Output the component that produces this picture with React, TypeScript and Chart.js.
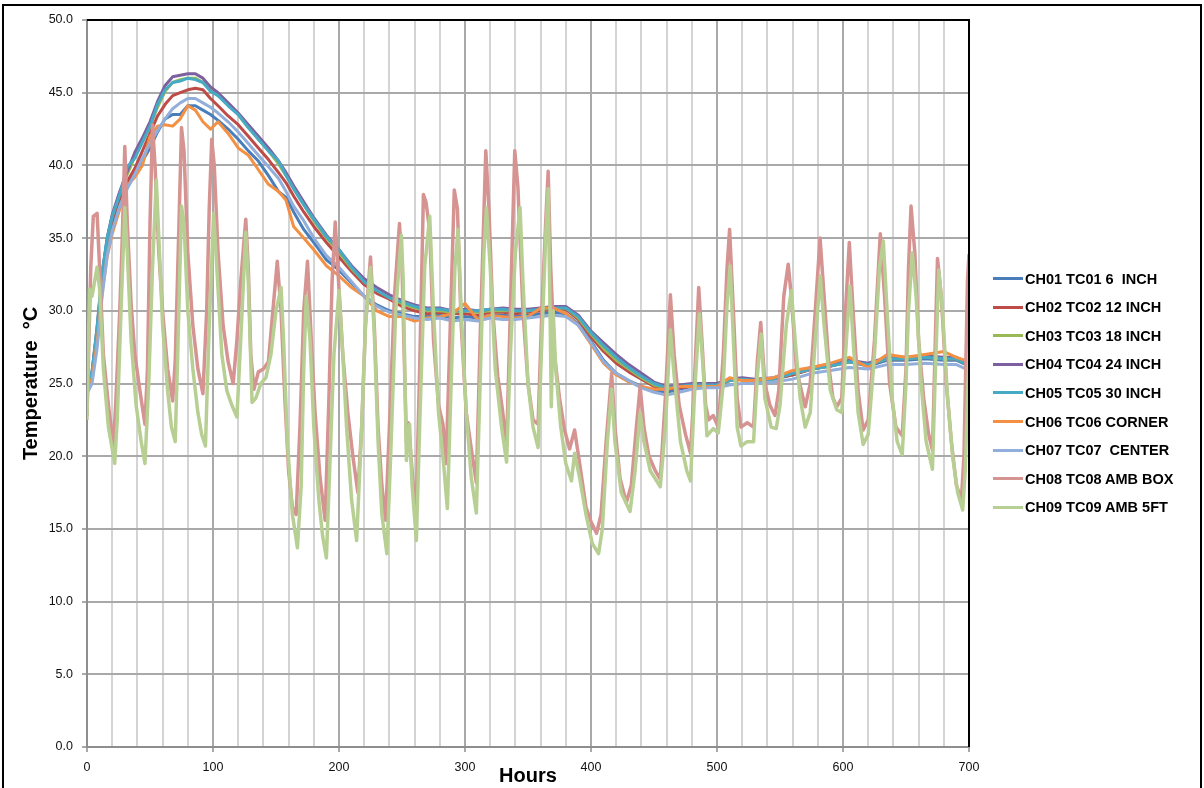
import React, { useEffect, useRef } from "react";
import { Chart, registerables } from "chart.js";

Chart.register(...registerables);

// ---------- data ----------
const seriesLabels = [
  "CH01 TC01 6  INCH",
  "CH02 TC02 12 INCH",
  "CH03 TC03 18 INCH",
  "CH04 TC04 24 INCH",
  "CH05 TC05 30 INCH",
  "CH06 TC06 CORNER",
  "CH07 TC07  CENTER",
  "CH08 TC08 AMB BOX",
  "CH09 TC09 AMB 5FT",
];

const seriesColors = [
  "#4A7EBB",
  "#BE4B48",
  "#98B954",
  "#7D60A0",
  "#46AAC5",
  "#F39043",
  "#92AEDA",
  "#D59391",
  "#B7CF92",
];

const xTickValues = [0, 100, 200, 300, 400, 500, 600, 700];
const yTickValues = [0, 5, 10, 15, 20, 25, 30, 35, 40, 45, 50];

// shared time base (hours) for the seven in-ground thermocouples
const bundleHours = [
  0, 4, 8, 12, 16, 20,
  26, 32, 38, 44, 50, 56, 62, 68, 74, 80,
  86, 92, 98, 104,
  112, 120, 128, 136, 144, 152,
  158, 164, 172, 180,
  190, 200, 210, 220, 230, 240, 250, 260, 270, 280, 290, 300, 310, 320, 330, 340, 350, 360, 370, 380,
  390, 400, 410, 420, 430, 440, 450, 460, 470, 480, 490, 500, 510, 520, 530,
  545, 560, 575, 590, 605, 620, 635, 650, 665, 680,
  690, 700,
];

const ch01Temps = [
  24.4, 25.3, 28.0, 31.8, 34.3, 35.9,
  37.5, 38.5, 39.4, 40.3, 41.2, 42.3, 43.2, 43.5, 43.5, 44.1,
  44.1, 43.8, 43.5, 43.1,
  42.5, 41.8, 41.0, 40.3, 39.3, 38.2,
  37.8, 36.8, 35.6, 34.7,
  33.5, 32.8, 31.9, 31.0, 30.4, 30.0, 29.8, 29.6, 29.6, 29.7, 29.5, 29.6, 29.5, 29.7, 29.7, 29.6, 29.7, 29.8, 29.9, 29.8,
  29.1, 27.9, 26.6, 25.7, 25.2, 24.8, 24.5, 24.4, 24.6, 24.8, 24.9, 24.9, 25.3, 25.3, 25.2,
  25.3, 25.6, 26.0, 26.2, 26.5, 26.2, 26.6, 26.6, 26.7, 26.6,
  26.6, 26.2,
];

const ch02Temps = [
  24.5, 25.6, 28.5, 32.2, 34.7, 36.3,
  37.8, 38.9, 39.8, 41.0, 42.2, 43.4, 44.2, 44.8, 45.0, 45.2,
  45.3, 45.2, 44.6, 44.1,
  43.4, 42.8, 42.0, 41.2, 40.4, 39.5,
  38.8, 37.9, 36.8, 35.8,
  34.7, 33.7, 32.7, 31.8, 31.2, 30.8, 30.3, 30.0, 29.8, 29.9, 29.8, 29.8, 29.7, 29.9, 29.9, 29.8, 29.9, 30.0, 30.1, 30.1,
  29.4, 28.2, 27.2, 26.4, 25.8, 25.3, 24.8, 24.6, 24.7, 24.8, 24.9, 24.9, 25.2, 25.3, 25.2,
  25.3, 25.6, 26.0, 26.2, 26.5, 26.3, 26.7, 26.7, 26.8, 26.7,
  26.7, 26.4,
];

const ch03Temps = [
  24.6, 25.7, 28.7, 32.4, 34.9, 36.5,
  38.1, 39.4, 40.6, 41.6, 42.7, 44.0, 45.1, 45.7, 45.9, 46.0,
  46.0, 45.7, 45.2, 44.8,
  44.2, 43.5, 42.6, 41.8, 41.0, 40.1,
  39.3, 38.4, 37.3, 36.2,
  35.0, 34.0, 32.9, 32.0, 31.4, 30.9, 30.5, 30.2, 30.0, 30.0, 29.9, 30.0, 29.9, 30.0, 30.0, 30.0, 30.0, 30.1, 30.2, 30.2,
  29.5, 28.4, 27.4, 26.6, 26.0, 25.4, 24.9, 24.7, 24.8, 24.9, 24.9, 24.9, 25.2, 25.3, 25.2,
  25.3, 25.7, 26.0, 26.2, 26.5, 26.3, 26.7, 26.7, 26.8, 26.7,
  26.7, 26.3,
];

const ch04Temps = [
  24.6, 25.8, 28.8, 32.5, 35.0, 36.6,
  38.2, 39.6, 40.9, 41.9, 43.0, 44.4, 45.5, 46.1, 46.2, 46.3,
  46.3, 46.0, 45.4, 45.0,
  44.3, 43.6, 42.8, 42.0, 41.2, 40.3,
  39.5, 38.6, 37.5, 36.4,
  35.2, 34.2, 33.1, 32.2, 31.6, 31.1, 30.7, 30.4, 30.2, 30.2, 30.0, 30.1, 30.0, 30.1, 30.2, 30.1, 30.1, 30.2, 30.3, 30.3,
  29.7, 28.6, 27.8, 27.0, 26.3, 25.7, 25.1, 24.8, 24.9, 25.0, 25.0, 25.0, 25.3, 25.4, 25.3,
  25.4, 25.8, 26.1, 26.3, 26.6, 26.4, 26.8, 26.8, 26.9, 26.8,
  26.8, 26.3,
];

const ch05Temps = [
  24.6, 25.8, 28.9, 32.6, 35.0, 36.5,
  38.0, 39.9, 40.5, 41.6, 42.7, 44.2, 45.2, 45.7, 45.8, 46.0,
  45.9, 45.7, 45.1, 44.8,
  44.1, 43.5, 42.6, 41.8, 41.0, 40.3,
  39.3, 38.4, 37.3, 36.3,
  35.1, 34.2, 33.0, 32.0, 31.4, 30.9, 30.6, 30.3, 30.1, 30.1, 30.0, 30.0, 30.0, 30.1, 30.1, 30.0, 30.0, 30.1, 30.2, 30.2,
  29.6, 28.5, 27.6, 26.8, 26.1, 25.5, 25.0, 24.7, 24.8, 24.9, 24.9, 24.9, 25.2, 25.3, 25.2,
  25.3, 25.7, 26.0, 26.2, 26.5, 26.3, 26.7, 26.7, 26.8, 26.7,
  26.7, 26.2,
];

const ch06Temps = [
  24.5, 25.3, 27.8, 31.2, 33.7, 35.3,
  37.0, 38.6, 39.2, 40.0, 42.0, 42.7, 42.8, 42.7, 43.2, 44.1,
  43.8, 43.0, 42.5, 43.0,
  42.2, 41.2, 40.7, 39.7, 38.7, 38.2,
  37.6, 35.8, 35.0, 34.2,
  33.1, 32.4, 31.6, 31.0, 30.0, 29.6, 29.6, 29.3, 29.5, 29.6, 29.8, 30.5, 29.4, 29.7, 29.6, 29.5, 29.6, 30.2, 30.2, 29.8,
  29.0, 27.7, 26.4, 25.6, 25.1, 24.8, 24.6, 24.6, 24.8, 24.8, 24.8, 24.8, 25.4, 25.2, 25.2,
  25.4, 25.9, 26.1, 26.4, 26.8, 26.1, 27.0, 26.8, 27.0, 27.2,
  26.8, 26.5,
];

const ch07Temps = [
  24.3, 25.0, 27.4, 31.0, 33.8, 35.5,
  37.2, 38.4, 39.4, 40.5, 41.5, 42.4, 43.2, 43.9, 44.3, 44.6,
  44.6, 44.3, 44.0, 43.6,
  43.0, 42.3, 41.5, 40.7, 39.9, 39.1,
  38.2, 37.2, 36.2, 35.0,
  33.8, 33.0, 32.0, 31.0, 30.3, 29.9, 29.7, 29.5, 29.4, 29.5, 29.3, 29.4, 29.3, 29.5, 29.4, 29.4, 29.5, 29.6, 29.7, 29.6,
  29.0, 27.8, 26.5, 25.7, 25.2, 24.7, 24.4, 24.2, 24.4, 24.6, 24.7, 24.7, 24.9, 25.0, 25.0,
  25.1, 25.3, 25.7, 25.9, 26.1, 26.0, 26.3, 26.3, 26.4, 26.3,
  26.3, 25.9,
];

// ambient readings: [hour, temperature]
const ambBoxReadings = [
  [0, 22.8], [3, 33.0], [5, 36.5], [8, 36.7], [10, 33.0], [13, 27.0], [17, 23.5], [21, 20.7],
  [23, 24.0], [26, 30.0], [28, 35.0], [30, 41.3], [32, 36.0], [35, 30.5], [38, 27.0], [42, 24.5],
  [46, 22.2], [48, 26.0], [50, 36.0], [52, 42.8], [54, 40.0], [57, 34.0], [60, 30.0], [64, 26.0],
  [68, 23.8], [70, 26.5], [73, 36.0], [75, 42.6], [77, 41.0], [80, 34.0], [84, 29.0], [88, 26.0],
  [92, 24.3], [95, 30.0], [97, 37.0], [99, 41.8], [101, 40.0], [104, 34.0], [108, 29.0], [112, 26.5],
  [116, 25.0], [119, 28.0], [122, 32.0], [126, 36.3], [128, 33.0], [130, 27.0], [132.5, 24.6], [136, 25.8],
  [140, 26.0], [144, 26.5], [147, 29.5], [151, 33.4], [154, 30.0], [157, 24.0], [160, 19.0], [163, 16.5],
  [166, 16.0], [169, 22.0], [172, 30.0], [175, 33.4], [178, 28.0], [181, 23.0], [185, 18.5], [189, 15.6],
  [192, 24.0], [194.5, 32.0], [197, 36.1], [200, 31.5], [203, 27.0], [207, 23.0], [211, 20.0], [215, 17.5],
  [218, 22.0], [221, 29.0], [225, 33.7], [228, 29.0], [231, 22.0], [234, 18.0], [237, 15.6], [240, 22.0],
  [244, 31.0], [248, 36.0], [250, 33.0], [253.5, 21.0], [255, 22.3], [258, 19.0], [261, 15.5], [264, 26.0],
  [267, 38.0], [269, 37.5], [272, 35.5], [275, 28.0], [279, 23.5], [282.5, 22.2], [285, 19.5], [288, 28.0],
  [291.5, 38.3], [294, 37.0], [297, 29.0], [301, 23.0], [305, 20.5], [309, 18.2], [312, 28.0], [316.5, 41.0],
  [319, 37.0], [322, 30.0], [326, 25.5], [330, 23.0], [333, 20.7], [336, 30.0], [339.5, 41.0], [342, 38.5],
  [346, 30.0], [350, 25.0], [354, 22.5], [358, 22.2], [361, 30.0], [364, 36.0], [366, 39.6], [368, 33.0],
  [371, 27.0], [375, 24.0], [379, 21.8], [383, 20.5], [387, 21.8], [391, 19.5], [396, 16.5], [400, 15.5],
  [404.4, 14.7], [408, 16.0], [412, 21.0], [416.4, 25.7], [419, 22.0], [423, 18.5], [428, 16.8], [432, 18.0],
  [436, 22.0], [439, 24.8], [442, 22.0], [446, 20.0], [451, 19.0], [455, 18.4], [459, 24.0], [463, 31.1],
  [466, 27.0], [470, 23.5], [475, 21.5], [479, 20.2], [482, 25.0], [485.5, 31.6], [488, 28.0], [491, 23.5],
  [493.5, 22.5], [497, 22.8], [501, 22.0], [505, 27.0], [508, 33.0], [510, 35.6], [513, 30.0], [516, 24.0],
  [519, 22.0], [524, 22.3], [529, 22.0], [532, 26.5], [534.7, 29.2], [538, 25.0], [542, 23.5], [546, 22.8],
  [549, 24.5], [553, 31.0], [556.5, 33.2], [559, 31.0], [563, 26.0], [567, 24.5], [570, 23.4], [574, 25.0],
  [578, 30.0], [581.8, 35.0], [585, 31.0], [589, 26.0], [592, 24.0], [595, 23.4], [599, 24.0], [602, 30.0],
  [605, 34.7], [608, 30.0], [612, 24.5], [616, 21.8], [620, 22.5], [625, 28.0], [629.6, 35.3], [633, 31.0],
  [637, 25.0], [642, 22.0], [647, 21.4], [650, 26.0], [652, 33.0], [654, 37.2], [657, 34.0], [660, 28.0],
  [664, 24.0], [668, 21.5], [671, 20.4], [673, 27.0], [675, 33.6], [678, 31.0], [682, 25.0], [686, 21.0],
  [690, 18.0], [694, 17.0], [696, 20.0], [698.8, 32.1], [700, 33.9],
];

const amb5ftReadings = [
  [0, 22.5], [2, 31.5], [4, 31.0], [6, 32.0], [8, 33.0], [10, 31.5], [13, 26.0], [17, 22.0],
  [22, 19.5], [24, 22.5], [27, 30.0], [30, 37.1], [32, 34.0], [35, 28.0], [39, 23.5], [43, 21.0],
  [46, 19.5], [49, 25.0], [52, 33.0], [55, 39.0], [57, 35.0], [60, 29.0], [64, 24.5], [67, 22.0],
  [70, 21.0], [72, 27.0], [75, 37.2], [77, 36.0], [80, 30.0], [84, 26.0], [88, 23.0], [91, 21.5],
  [94, 20.7], [97, 29.0], [100.5, 36.7], [103, 33.0], [107, 27.0], [111, 24.5], [115, 23.5], [119, 22.7],
  [122, 28.0], [126, 35.4], [128, 32.0], [131, 23.7], [134, 24.0], [138, 25.0], [142, 25.4], [146, 27.0],
  [150, 30.0], [154, 31.6], [156, 28.0], [159, 21.0], [163, 16.0], [167, 13.7], [170, 18.0], [172, 26.0],
  [174, 31.0], [177, 28.0], [180, 22.0], [184, 17.0], [187, 14.5], [190, 13.0], [193, 20.0], [196, 27.0],
  [200, 31.4], [203, 27.0], [206, 22.0], [210, 17.0], [214, 14.2], [218, 22.0], [221, 29.0], [225, 33.0],
  [228, 28.5], [231, 21.0], [234, 16.0], [238, 13.3], [241, 20.0], [245, 30.0], [249.5, 35.2], [251, 32.0],
  [253.5, 19.7], [256, 22.2], [258, 18.0], [261.4, 14.2], [264, 22.0], [268, 33.0], [272, 36.5], [275, 30.0],
  [279, 23.0], [283, 19.5], [286, 16.4], [289, 25.0], [292, 33.0], [294.5, 35.6], [297, 30.0], [301, 23.0],
  [305, 18.5], [309, 16.1], [312, 25.0], [315, 34.0], [317, 37.1], [320, 33.0], [324, 26.0], [329, 22.0],
  [333, 19.6], [336, 27.0], [340, 34.0], [343.7, 37.1], [346, 32.0], [350, 25.0], [354, 22.0], [358, 20.6],
  [361, 28.0], [364, 35.0], [366, 38.4], [367.5, 30.0], [368.5, 23.4], [370, 30.0], [372, 26.0], [376, 22.0],
  [380, 19.5], [384.5, 18.3], [387, 20.2], [391, 18.5], [396, 16.0], [401, 14.0], [406, 13.3], [409, 15.0],
  [413, 21.0], [416.4, 24.6], [419, 21.0], [424, 17.5], [431, 16.2], [435, 19.0], [439, 23.0], [442, 21.0],
  [447, 19.0], [455, 17.9], [459, 22.0], [463, 28.7], [466, 25.5], [471, 21.0], [476, 19.0], [479, 18.3],
  [482, 24.0], [486, 29.8], [489, 26.0], [492, 21.4], [497, 21.9], [501, 21.6], [505, 25.0], [508, 30.5],
  [510.5, 33.1], [513, 28.0], [516, 22.0], [519, 20.7], [524, 21.0], [529, 21.0], [532, 25.5], [535, 28.4],
  [538, 24.0], [543, 22.0], [547, 21.9], [550, 23.5], [555, 29.0], [559, 31.4], [562, 28.0], [566, 24.0],
  [570, 22.0], [574, 23.0], [578, 28.0], [582, 32.4], [585, 29.0], [590, 24.5], [595, 23.2], [599, 23.0],
  [602, 27.0], [605.5, 31.7], [608, 28.0], [612, 23.0], [616, 20.8], [620, 21.5], [625, 27.0], [629, 33.0],
  [632, 34.8], [635, 30.0], [639, 24.0], [643, 21.0], [647, 20.1], [650, 25.0], [652, 30.0], [655, 34.0],
  [658, 31.0], [662, 25.0], [666, 21.0], [671, 19.1], [673, 25.0], [676, 32.8], [679, 30.0], [683, 24.0],
  [687, 20.0], [691, 17.5], [695, 16.3], [697, 19.0], [700, 27.1],
];

// ---------- layout ----------
const FONT = "'Liberation Sans', Arial, sans-serif";
const AREA = { left: 87, right: 969, top: 20, bottom: 747 };
const W = 1204;
const H = 788;
const LEGEND_X = 993;
const LEGEND_Y0 = 278.5;
const LEGEND_STEP = 28.6;

export default function App() {
  const canvasRef = useRef<HTMLCanvasElement | null>(null);

  useEffect(() => {
    const canvas = canvasRef.current;
    if (!canvas) return;
    const bundle = [ch01Temps, ch02Temps, ch03Temps, ch04Temps, ch05Temps, ch06Temps, ch07Temps];
    const ambient = [ambBoxReadings, amb5ftReadings];

    const datasets = seriesLabels.map((label, i) => {
      const data =
        i < 7
          ? bundleHours.map((h, k) => ({ x: h, y: bundle[i][k] }))
          : ambient[i - 7].map(([h, t]) => ({ x: h, y: t }));
      return {
        label,
        data,
        borderColor: seriesColors[i],
        backgroundColor: seriesColors[i],
        borderWidth: i < 7 ? 3 : 3.5,
        pointRadius: 0,
        pointHoverRadius: 0,
        tension: 0,
        fill: false,
        order: seriesLabels.length - 1 - i,
        borderJoinStyle: "round" as const,
      };
    });

    const plotFrame = {
      id: "plotFrame",
      afterDraw(chart: any) {
        const { ctx, chartArea } = chart;
        ctx.save();
        ctx.strokeStyle = "#000";
        ctx.lineWidth = 2;
        ctx.beginPath();
        ctx.moveTo(chartArea.left, chartArea.top);
        ctx.lineTo(chartArea.right, chartArea.top);
        ctx.lineTo(chartArea.right, chartArea.bottom);
        ctx.stroke();
        ctx.restore();
      },
    };

    const chart = new Chart(canvas, {
      type: "line",
      data: { datasets },
      options: {
        animation: false,
        responsive: false,
        devicePixelRatio: 1,
        layout: {
          padding: { left: 0, right: W - AREA.right, top: AREA.top, bottom: 0 },
        },
        plugins: {
          legend: { display: false },
          tooltip: { enabled: false },
        },
        scales: {
          x: {
            type: "linear",
            min: 0,
            max: 700,
            afterFit: (s: any) => {
              s.height = H - AREA.bottom;
            },
            afterBuildTicks: (s: any) => {
              const ticks = [];
              for (let v = 0; v <= 700; v += 20) ticks.push({ value: v });
              s.ticks = ticks;
            },
            ticks: {
              autoSkip: false,
              maxRotation: 0,
              padding: 8,
              color: "#111",
              font: { family: FONT, size: 12.5 },
              callback: (v: any) => (xTickValues.includes(Number(v)) ? String(v) : ""),
            },
            grid: {
              lineWidth: 2,
              tickLength: 5,
              color: (c: any) =>
                c.tick && xTickValues.includes(c.tick.value) ? "#a9a9a9" : "#d4d4d4",
              tickColor: (c: any) =>
                c.tick && xTickValues.includes(c.tick.value) ? "#a9a9a9" : "rgba(0,0,0,0)",
            },
            border: { display: true, color: "#8e8e8e", width: 2 },
            title: {
              display: true,
              text: "Hours",
              color: "#000",
              font: { family: FONT, size: 20, weight: "bold" },
              padding: { top: 0, bottom: 0 },
            },
          },
          y: {
            type: "linear",
            min: 0,
            max: 50,
            afterFit: (s: any) => {
              s.width = AREA.left;
            },
            afterBuildTicks: (s: any) => {
              s.ticks = yTickValues.map((v) => ({ value: v }));
            },
            ticks: {
              padding: 9,
              color: "#111",
              font: { family: FONT, size: 12.5 },
              callback: (v: any) => Number(v).toFixed(1),
            },
            grid: {
              lineWidth: 2,
              tickLength: 5,
              color: "#a9a9a9",
              tickColor: "#a9a9a9",
            },
            border: { display: true, color: "#8e8e8e", width: 2 },
            title: {
              display: true,
              text: "Temperature  °C",
              color: "#000",
              font: { family: FONT, size: 20, weight: "bold" },
              padding: { top: 19, bottom: 0 },
            },
          },
        },
      },
      plugins: [plotFrame],
    });

    return () => chart.destroy();
  }, []);

  return (
    <div
      style={{
        position: "fixed",
        left: 0,
        top: 0,
        width: W,
        height: H,
        overflow: "hidden",
        background: "#fff",
      }}
    >
      <div
        style={{
          position: "absolute",
          left: 2,
          top: 4,
          width: 1200,
          height: 820,
          border: "2px solid #000",
          boxSizing: "border-box",
        }}
      />
      <canvas
        ref={canvasRef}
        width={W}
        height={H}
        style={{ position: "absolute", left: 0, top: 0 }}
      />
      {seriesLabels.map((label, i) => (
        <div
          key={label}
          style={{
            position: "absolute",
            left: LEGEND_X,
            top: LEGEND_Y0 + i * LEGEND_STEP - 10,
            height: 20,
            display: "flex",
            alignItems: "center",
          }}
        >
          <span
            style={{
              display: "inline-block",
              width: 30,
              height: 3,
              background: seriesColors[i],
            }}
          />
          <span
            style={{
              marginLeft: 2,
              fontFamily: FONT,
              fontWeight: "bold",
              fontSize: 14.5,
              color: "#000",
              whiteSpace: "pre",
              lineHeight: "20px",
            }}
          >
            {label}
          </span>
        </div>
      ))}
    </div>
  );
}
